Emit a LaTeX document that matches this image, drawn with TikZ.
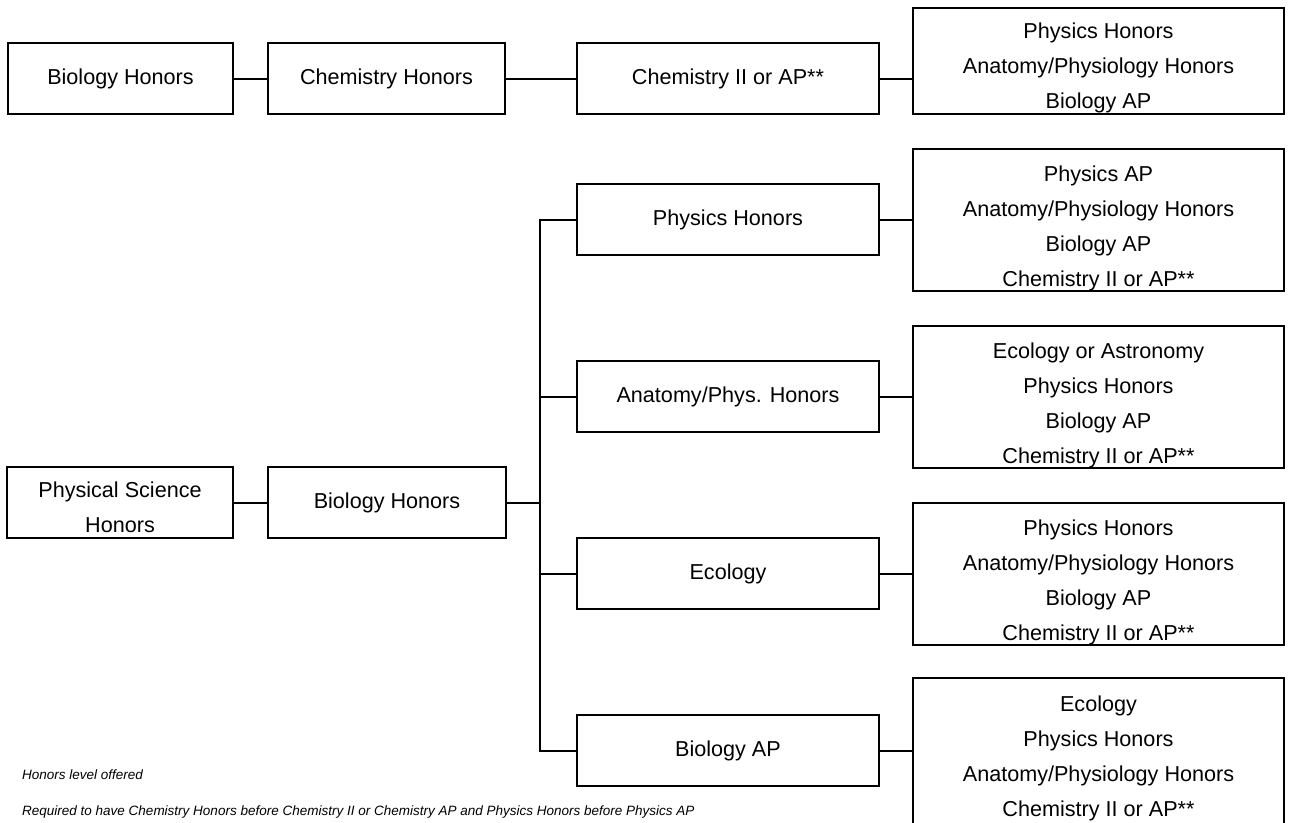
\documentclass[tikz,border=0pt]{standalone}
\usepackage{fontspec}
\setmainfont{Liberation Sans}
\newcommand{\boxlines}[2]{\parbox{360pt}{\vspace*{#1}\centering #2}}
\begin{document}
\begin{tikzpicture}[x=1pt,y=-1pt,
  box/.style={draw, line width=2pt, inner sep=0pt, anchor=north west, align=center,
    font=\fontsize{21.6}{35}\selectfont},
  note/.style={anchor=west, inner sep=0pt, font=\fontsize{13.5}{16}\selectfont\itshape},
  conn/.style={line width=2pt, line cap=rect}]
\useasboundingbox (0,0) rectangle (1293,822);
\clip (0,0) rectangle (1293,822);
% top row
\node[box, minimum width=225, minimum height=71] (b1) at (7,42) {Biology Honors};
\node[box, minimum width=237, minimum height=71] (b2) at (267,42) {Chemistry Honors};
\node[box, minimum width=302, minimum height=71] (b3) at (576,42) {Chemistry II or AP**};
\node[box, minimum width=371, minimum height=106] (b4) at (912,7) {\boxlines{14pt}{Physics Honors\\Anatomy/Physiology Honors\\Biology AP}};
\draw[conn] (b1.east) -- (b2.west);
\draw[conn] (b2.east) -- (b3.west);
\draw[conn] (b3.east) -- (b4.west |- b3.east);
% lower left
\node[box, minimum width=226, minimum height=71] (ps) at (6,466) {\parbox{220pt}{\vspace*{9pt}\centering Physical Science\\Honors}};
\node[box, minimum width=238, minimum height=71] (bh) at (267,466) {Biology Honors};
\draw[conn] (ps.east) -- (bh.west);
% middle column
\node[box, minimum width=302, minimum height=71] (m1) at (576,183) {Physics Honors};
\node[box, minimum width=302, minimum height=71] (m2) at (576,360) {Anatomy/Phys. Honors};
\node[box, minimum width=302, minimum height=71] (m3) at (576,537) {Ecology};
\node[box, minimum width=302, minimum height=71] (m4) at (576,714) {Biology AP};
\coordinate (vx) at (540,500);
\draw[conn] (bh.east) -- (bh.east -| vx);
\draw[conn] (vx |- m1.west) -- (vx |- m4.west);
\foreach \m in {m1,m2,m3,m4} {\draw[conn] (vx |- \m.west) -- (\m.west);}
% right column
\node[box, minimum width=371, minimum height=142] (r1) at (912,148) {\boxlines{16pt}{Physics AP\\Anatomy/Physiology Honors\\Biology AP\\Chemistry II or AP**}};
\node[box, minimum width=371, minimum height=142] (r2) at (912,325) {\boxlines{16pt}{Ecology or Astronomy\\Physics Honors\\Biology AP\\Chemistry II or AP**}};
\node[box, minimum width=371, minimum height=142] (r3) at (912,502) {\boxlines{16pt}{Physics Honors\\Anatomy/Physiology Honors\\Biology AP\\Chemistry II or AP**}};
\node[box, minimum width=371, minimum height=160] (r4) at (912,677) {\boxlines{0pt}{Ecology\\Physics Honors\\Anatomy/Physiology Honors\\Chemistry II or AP**}};
\draw[conn] (m1.east) -- (r1.west |- m1.east);
\draw[conn] (m2.east) -- (r2.west |- m2.east);
\draw[conn] (m3.east) -- (r3.west |- m3.east);
\draw[conn] (m4.east) -- (r4.west |- m4.east);
% notes
\node[note] (n1) at (22,775) {Honors level offered};
\node[note] (n2) at (22,812) {Required to have Chemistry Honors before Chemistry II or Chemistry AP and Physics Honors before Physics AP};
\end{tikzpicture}
\end{document}
